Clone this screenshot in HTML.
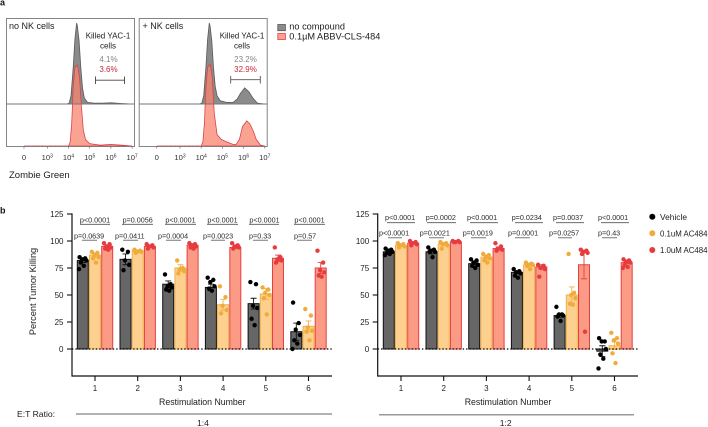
<!DOCTYPE html>
<html lang="en">
<head>
<meta charset="utf-8">
<title>Tumor killing chart</title>
<style>
html,body{margin:0;padding:0;background:#fff;}
body{width:708px;height:427px;overflow:hidden;}
svg{display:block;font-family:"Liberation Sans",sans-serif;fill:#1c1c1c;}
.p{font-size:7.2px;fill:#2a2a2a;}
.pl{stroke:#555;stroke-width:.8;}
</style>
</head>
<body>
<svg id="fig" width="708" height="427" viewBox="0 0 708 427" xmlns="http://www.w3.org/2000/svg">
<rect width="708" height="427" fill="#fff"/>
<text x="0" y="5.5" font-size="9" font-weight="bold" fill="#111">a</text>
<text x="0" y="213.5" font-size="9" font-weight="bold" fill="#111">b</text>

<g id="flow"></g>

<text x="9" y="29" font-size="9">no NK cells</text>
<text x="142.5" y="29" font-size="9">+ NK cells</text>
<g font-size="8" text-anchor="middle">
<text x="108" y="38.5">Killed YAC-1</text><text x="108" y="48.5">cells</text>
<text x="108.5" y="62" fill="#858585">4.1%</text><text x="108.5" y="72" fill="#c8283c">3.6%</text>
<path d="M95.5 76.5V84M95.5 80.2H124.5M124.5 76.5V84" stroke="#444" stroke-width=".9" fill="none"/>
</g>
<g font-size="8" text-anchor="middle">
<text x="242" y="38.5">Killed YAC-1</text><text x="242" y="48.5">cells</text>
<text x="245.5" y="62" fill="#858585">23.2%</text><text x="245.5" y="72" fill="#c8283c">32.9%</text>
<path d="M230.7 76V83.5M230.7 79.7H260.3M260.3 76V83.5" stroke="#555" stroke-width=".9" fill="none"/>
</g>
<text x="9" y="178" font-size="9.5">Zombie Green</text>
<g font-size="9.2">
<rect x="277.8" y="24.5" width="7.6" height="6.2" fill="#8b8b8b" stroke="#555" stroke-width=".8"/>
<text x="289.3" y="29.7">no compound</text>
<rect x="277.8" y="33.5" width="7.6" height="6" fill="#f9a08e" stroke="#d9424a" stroke-width=".8"/>
<text x="289.3" y="39.7">0.1µM ABBV-CLS-484</text>
</g>

<g id="left-chart"></g>
<g id="right-chart"></g>

<text transform="translate(36,291.5) rotate(-90)" text-anchor="middle" font-size="9.2">Percent Tumor Killing</text>

<g>
<text class="p" x="95" y="222.5" text-anchor="middle">p&lt;0.0001</text><line class="pl" x1="80" x2="110" y1="224.3" y2="224.3"/>
<text class="p" x="137.7" y="222.5" text-anchor="middle">p=0.0056</text><line class="pl" x1="122" x2="153" y1="224.3" y2="224.3"/>
<text class="p" x="180.5" y="222.5" text-anchor="middle">p&lt;0.0001</text><line class="pl" x1="165" x2="196" y1="224.3" y2="224.3"/>
<text class="p" x="222.5" y="222.5" text-anchor="middle">p&lt;0.0001</text><line class="pl" x1="207" x2="238" y1="224.3" y2="224.3"/>
<text class="p" x="264.5" y="222.5" text-anchor="middle">p&lt;0.0001</text><line class="pl" x1="249" x2="279" y1="224.3" y2="224.3"/>
<text class="p" x="309.5" y="222.5" text-anchor="middle">p&lt;0.0001</text><line class="pl" x1="294" x2="325" y1="224.3" y2="224.3"/>
<text class="p" x="74" y="238.3">p=0.0639</text><line class="pl" x1="82" x2="97" y1="240.2" y2="240.2"/>
<text class="p" x="115" y="238.3">p=0.0411</text><line class="pl" x1="123" x2="138" y1="240.2" y2="240.2"/>
<text class="p" x="158" y="238.3">p=0.0004</text><line class="pl" x1="166" x2="181" y1="240.2" y2="240.2"/>
<text class="p" x="203" y="238.3">p=0.0023</text><line class="pl" x1="211" x2="225" y1="240.2" y2="240.2"/>
<text class="p" x="249" y="238.3">p=0.33</text><line class="pl" x1="253" x2="268" y1="240.2" y2="240.2"/>
<text class="p" x="294" y="238.3">p=0.57</text><line class="pl" x1="297" x2="312" y1="240.2" y2="240.2"/>
</g>
<g>
<text class="p" x="385" y="219.8">p&lt;0.0001</text><line class="pl" x1="387" x2="415" y1="222.7" y2="222.7"/>
<text class="p" x="425.7" y="219.8">p=0.0002</text><line class="pl" x1="427" x2="456" y1="222.7" y2="222.7"/>
<text class="p" x="467" y="219.8">p&lt;0.0001</text><line class="pl" x1="470" x2="498" y1="222.7" y2="222.7"/>
<text class="p" x="511.7" y="219.8">p=0.0234</text><line class="pl" x1="515" x2="543" y1="222.7" y2="222.7"/>
<text class="p" x="553" y="219.8">p=0.0037</text><line class="pl" x1="556" x2="584" y1="222.7" y2="222.7"/>
<text class="p" x="598" y="219.8">p&lt;0.0001</text><line class="pl" x1="601" x2="629" y1="222.7" y2="222.7"/>
<text class="p" x="379" y="235.5">p&lt;0.0001</text><line class="pl" x1="388" x2="402" y1="237.8" y2="237.8"/>
<text class="p" x="419.7" y="235.5">p=0.0021</text><line class="pl" x1="429" x2="444" y1="237.8" y2="237.8"/>
<text class="p" x="462.7" y="235.5">p=0.0019</text><line class="pl" x1="471" x2="486" y1="237.8" y2="237.8"/>
<text class="p" x="508" y="235.5">p=0.0001</text><line class="pl" x1="515" x2="530" y1="237.8" y2="237.8"/>
<text class="p" x="549" y="235.5">p=0.0257</text><line class="pl" x1="558" x2="572" y1="237.8" y2="237.8"/>
<text class="p" x="598" y="235.5">p=0.43</text><line class="pl" x1="602" x2="617" y1="237.8" y2="237.8"/>
</g>

<g font-size="8.4">
<circle cx="652.3" cy="216.7" r="3" fill="#000"/>
<text x="660" y="219.8">Vehicle</text>
<circle cx="652.3" cy="233.3" r="3" fill="#f0ac3a"/>
<text x="660" y="236.4" textLength="47.5" lengthAdjust="spacingAndGlyphs">0.1uM AC484</text>
<circle cx="652.3" cy="250" r="3" fill="#e63b3f"/>
<text x="660" y="253" textLength="47.5" lengthAdjust="spacingAndGlyphs">1.0uM AC484</text>
</g>

<text x="17" y="417" font-size="8.6">E:T Ratio:</text>
<line x1="76" x2="332" y1="414" y2="414" stroke="#9a9a9a" stroke-width="1.5"/>
<text x="203" y="426" font-size="8.6" text-anchor="middle">1:4</text>
<line x1="379" x2="634" y1="414.7" y2="414.7" stroke="#9a9a9a" stroke-width="1.5"/>
<text x="505.7" y="426" font-size="8.6" text-anchor="middle">1:2</text>
</svg>

<script>
// ---------- Flow histogram data (log10 fluorescence, relative height) ----------
const flowTickDecades = [1.9, 3, 4, 5, 6, 7];
const flowTickLabels = ['0', '3', '4', '5', '6', '7'];

const noNkGrayDecades = [1.9, 3.9, 4.03, 4.12, 4.22, 4.3, 4.38, 4.42, 4.5, 4.58, 4.66, 4.75, 4.9, 5.2, 5.6, 6, 6.5, 7];
const noNkGrayHeights = [0, 0, 1, 10, 45, 80, 100, 96, 78, 45, 20, 7, 2, 1, 1, 1.5, .6, 0];
const noNkRedDecades = [1.9, 4.0, 4.08, 4.15, 4.22, 4.3, 4.42, 4.52, 4.6, 4.7, 4.8, 5, 5.5, 6, 6.5, 7];
const noNkRedHeights = [0, 0, 5, 28, 72, 97, 100, 85, 52, 20, 8, 3, 1, 2, 1, 0];
const nkGrayDecades = [1.9, 3.9, 4.03, 4.12, 4.22, 4.3, 4.38, 4.42, 4.5, 4.58, 4.66, 4.75, 4.9, 5.2, 5.5, 5.7, 5.85, 6.05, 6.25, 6.45, 6.65, 7];
const nkGrayHeights = [0, 0, 1, 10, 45, 80, 100, 96, 78, 45, 22, 10, 4, 2, 2, 6, 13, 20, 15, 7, 1, 0];
const nkRedDecades = [1.9, 4.0, 4.08, 4.15, 4.22, 4.3, 4.42, 4.52, 4.62, 4.75, 4.95, 5.2, 5.5, 5.65, 5.8, 5.95, 6.15, 6.3, 6.45, 6.6, 6.8, 7];
const nkRedHeights = [0, 0, 5, 28, 72, 97, 101, 85, 40, 14, 8, 5, 2, 2, 8, 24, 31, 27, 19, 8, 1, 0];

// ---------- Bar chart data ----------
const restimulationLabels = ['1', '2', '3', '4', '5', '6'];
const yTickValues = [125, 100, 75, 50, 25, 0];

const leftVehicleMeans = [82, 83, 60, 57, 42, 16];
const leftVehicleErrors = [2, 5, 3, 3, 5, 8];
const leftVehiclePoints = [[85,84,83,82,80,77,74],[92,90,82,78,73],[69,60,58,57,55,54],[66,64,62,58,56,54],[62,60,40,38,28,22],[43,24,18,13,8,5,0]];
const leftLowMeans = [87, 91, 75, 41, 51, 21];
const leftLowErrors = [2, .6, 3, 5, 5, 5];
const leftLowPoints = [[90,89,87,85,84,80],[92,91,90,90,89],[82,75,74,72,70],[58,48,40,36,33],[57,55,52,50,47,32],[37,31,20,17,16,8]];
const leftHighMeans = [95, 95, 96, 94, 84, 75];
const leftHighErrors = [1, 1, 1, 1, 3, 5];
const leftHighPoints = [[98,97,95,94,93,92],[97,96,95,94,93],[98,97,96,95,94,93],[98,96,95,94,93],[94,85,83,82,80],[91,80,73,71,68,67]];

const rightVehicleMeans = [90, 90, 79, 71, 31, -2];
const rightVehicleErrors = [1, 2, 1, 1, 1.5, 5];
const rightVehiclePoints = [[93,92,91,90,89,88,87],[94,92,91,90,90,85],[83,82,80,78,77,75],[74,72,71,70,68,66],[39,32,32,31,30,26],[10,7,7,0,-5,-9,-18]];
const rightLowMeans = [96, 97, 85, 78, 50, 3];
const rightLowErrors = [1, 1, 2, 1, 7.5, 3.5];
const rightLowPoints = [[98,97,96,95,94],[99,98,97,96,93],[88,87,85,84,82,80],[80,79,78,78,77,74],[88,52,50,47,42,41],[15,10,8,5,-4,-13]];
const rightHighMeans = [98, 99, 93, 76, 78, 80];
const rightHighErrors = [.5, .3, 1.5, 2, 13, 1];
const rightHighPoints = [[100,99,98,97,96],[100,100,99,99,99],[98,95,93,92,91],[78,77,75,74,67],[92,91,90,89,88,16],[83,82,81,80,78,76,75]];

// ---------- Helpers ----------
const NS = 'http://www.w3.org/2000/svg';
function mk(parent, tag, attrs) {
  const el = document.createElementNS(NS, tag);
  for (const k in attrs) el.setAttribute(k, attrs[k]);
  parent.appendChild(el);
  return el;
}

// ---------- Flow panels ----------
const flowRoot = document.getElementById('flow');
const flowTop = 18.5, flowBottom = 146.5, flowMid = 104, flowPanelWidth = 128;

function flowX(left, d) { return left + 62 + (d - 4) * 21.2; }
function areaPath(left, base, ds, hs) {
  let p = 'M' + flowX(left, ds[0]).toFixed(1) + ' ' + base;
  ds.forEach(function (d, i) {
    p += 'L' + flowX(left, d).toFixed(1) + ' ' + (base - hs[i] * 0.81).toFixed(1);
  });
  return p + 'L' + flowX(left, ds[ds.length - 1]).toFixed(1) + ' ' + base + 'Z';
}
function drawFlow(name, left, grayD, grayH, redD, redH) {
  const g = mk(flowRoot, 'g', {});
  
  

  const gray = mk(g, 'path', { d: areaPath(left, flowMid, grayD, grayH), fill: '#8b8b8b', stroke: '#5a5a5a', 'stroke-width': .8 });
  
  

  const redBase = flowBottom - .5;
  const red = mk(g, 'path', { d: areaPath(left, redBase, redD, redH), fill: '#f9846e', 'fill-opacity': .75, stroke: '#d9424a', 'stroke-width': .8 });
  
  

  const mid = mk(g, 'line', { x1: left, x2: left + flowPanelWidth, y1: flowMid, y2: flowMid, stroke: '#777', 'stroke-width': .9 });
  
  

  const frame = mk(g, 'rect', { x: left, y: flowTop, width: flowPanelWidth, height: flowBottom - flowTop, fill: 'none', stroke: '#777', 'stroke-width': .9 });
  
  

  flowTickDecades.forEach(function (d, i) {
    const x = flowX(left, d);
    const tick = mk(g, 'line', { x1: x, x2: x, y1: flowBottom, y2: flowBottom + 2, stroke: '#666', 'stroke-width': .7 });
    
    

    const t = mk(g, 'text', { x: x, y: 160, 'font-size': 7.6, 'text-anchor': 'middle', fill: '#333' });
    
    
    if (i === 0) {
      t.textContent = flowTickLabels[i];
    } else {
      t.textContent = '10';
      const s = mk(t, 'tspan', { dy: -2.6, 'font-size': 5 });
      s.textContent = flowTickLabels[i];
    }
    if (i < flowTickDecades.length - 1) {
      for (let m = 1; m < 5; m++) {
        const mx = x + (flowX(left, flowTickDecades[i + 1]) - x) * m / 5;
        const minor = mk(g, 'line', { x1: mx, x2: mx, y1: flowBottom - 1, y2: flowBottom, stroke: '#c0454a', 'stroke-width': .6 });
        
        
      }
    }
  });
}
drawFlow('no-nk-histogram-panel', 6.5, noNkGrayDecades, noNkGrayHeights, noNkRedDecades, noNkRedHeights);
drawFlow('nk-histogram-panel', 139.2, nkGrayDecades, nkGrayHeights, nkRedDecades, nkRedHeights);

// ---------- Bar charts ----------
const y0 = 349, pxPerUnit = 1.08;
function yScale(v) { return y0 - v * pxPerUnit; }
const groupSpacing = 42.7, barOffset = 12.2, barWidth = 11;
const jitterPattern = [-3.2, 2.4, -.6, 3.6, -2, 1, -3.8, 3];
const seriesStyles = [
  { name: 'vehicle', fill: '#666666', stroke: '#111111', dot: '#000000' },
  { name: 'low-dose', fill: '#fdd08f', stroke: '#f3b04a', dot: '#f0ac3a' },
  { name: 'high-dose', fill: '#fb9a85', stroke: '#e5413f', dot: '#e63b3f' }
];

function drawChart(rootId, axisX, axisEnd, firstTick, titleX, series) {
  const root = document.getElementById(rootId);
  function xScale(group) { return firstTick + group * groupSpacing; }

  series.forEach(function (s, si) {
    const st = seriesStyles[si];
    s.means.forEach(function (m, gi) {
      const cx = xScale(gi) + (si - 1) * barOffset;
      const top = Math.min(yScale(m), y0), h = Math.abs(yScale(m) - y0);
      const bar = mk(root, 'rect', { x: cx - barWidth / 2, y: top, width: barWidth, height: h, fill: st.fill, stroke: st.stroke, 'stroke-width': 1 });
      
      
    });
  });

  series.forEach(function (s, si) {
    const st = seriesStyles[si];
    s.means.forEach(function (m, gi) {
      const cx = xScale(gi) + (si - 1) * barOffset;
      const e = s.errors[gi];
      const err = mk(root, 'path', {
        d: 'M' + (cx - 3) + ' ' + yScale(m + e) + 'H' + (cx + 3) + 'M' + cx + ' ' + yScale(m + e) + 'V' + yScale(m - e) + 'M' + (cx - 3) + ' ' + yScale(m - e) + 'H' + (cx + 3),
        fill: 'none', stroke: st.stroke, 'stroke-width': .9
      });
      
      
      s.points[gi].forEach(function (v, pi) {
        const dot = mk(root, 'circle', { cx: cx + jitterPattern[pi % jitterPattern.length], cy: yScale(v), r: 2.2, fill: st.dot });
        
        
      });
    });
  });

  const zero = mk(root, 'line', { x1: axisX, x2: axisEnd, y1: y0, y2: y0, stroke: '#000', 'stroke-width': 1.3, 'stroke-dasharray': '1.4 2' });
  
  

  const yAxis = mk(root, 'line', { x1: axisX, x2: axisX, y1: yScale(125) - .6, y2: yScale(-25) + .6, stroke: '#111', 'stroke-width': 1.2 });
  
  

  const xAxis = mk(root, 'line', { x1: axisX, x2: axisEnd, y1: yScale(-25), y2: yScale(-25), stroke: '#111', 'stroke-width': 1.2 });
  
  

  yTickValues.forEach(function (v) {
    const tick = mk(root, 'line', { x1: axisX - 5, x2: axisX, y1: yScale(v), y2: yScale(v), stroke: '#111', 'stroke-width': 1.1 });
    
    
    const label = mk(root, 'text', { x: axisX - 8.5, y: yScale(v) + 2.9, 'font-size': 8, 'text-anchor': 'end' });
    
    
    label.textContent = v;
  });

  restimulationLabels.forEach(function (lab, gi) {
    const x = xScale(gi);
    const tick = mk(root, 'line', { x1: x, x2: x, y1: yScale(-25), y2: yScale(-25) + 5, stroke: '#111', 'stroke-width': 1.1 });
    
    
    const label = mk(root, 'text', { x: x, y: 391, 'font-size': 8, 'text-anchor': 'middle' });
    
    
    label.textContent = lab;
  });

  const title = mk(root, 'text', { x: titleX, y: 405, 'font-size': 8.76, 'text-anchor': 'middle' });
  
  
  title.textContent = 'Restimulation Number';
}

drawChart('left-chart', 72, 332, 95, 202.3, [
  { means: leftVehicleMeans, errors: leftVehicleErrors, points: leftVehiclePoints },
  { means: leftLowMeans, errors: leftLowErrors, points: leftLowPoints },
  { means: leftHighMeans, errors: leftHighErrors, points: leftHighPoints }
]);
drawChart('right-chart', 377.7, 638, 401, 508, [
  { means: rightVehicleMeans, errors: rightVehicleErrors, points: rightVehiclePoints },
  { means: rightLowMeans, errors: rightLowErrors, points: rightLowPoints },
  { means: rightHighMeans, errors: rightHighErrors, points: rightHighPoints }
]);
</script>
</body>
</html>
